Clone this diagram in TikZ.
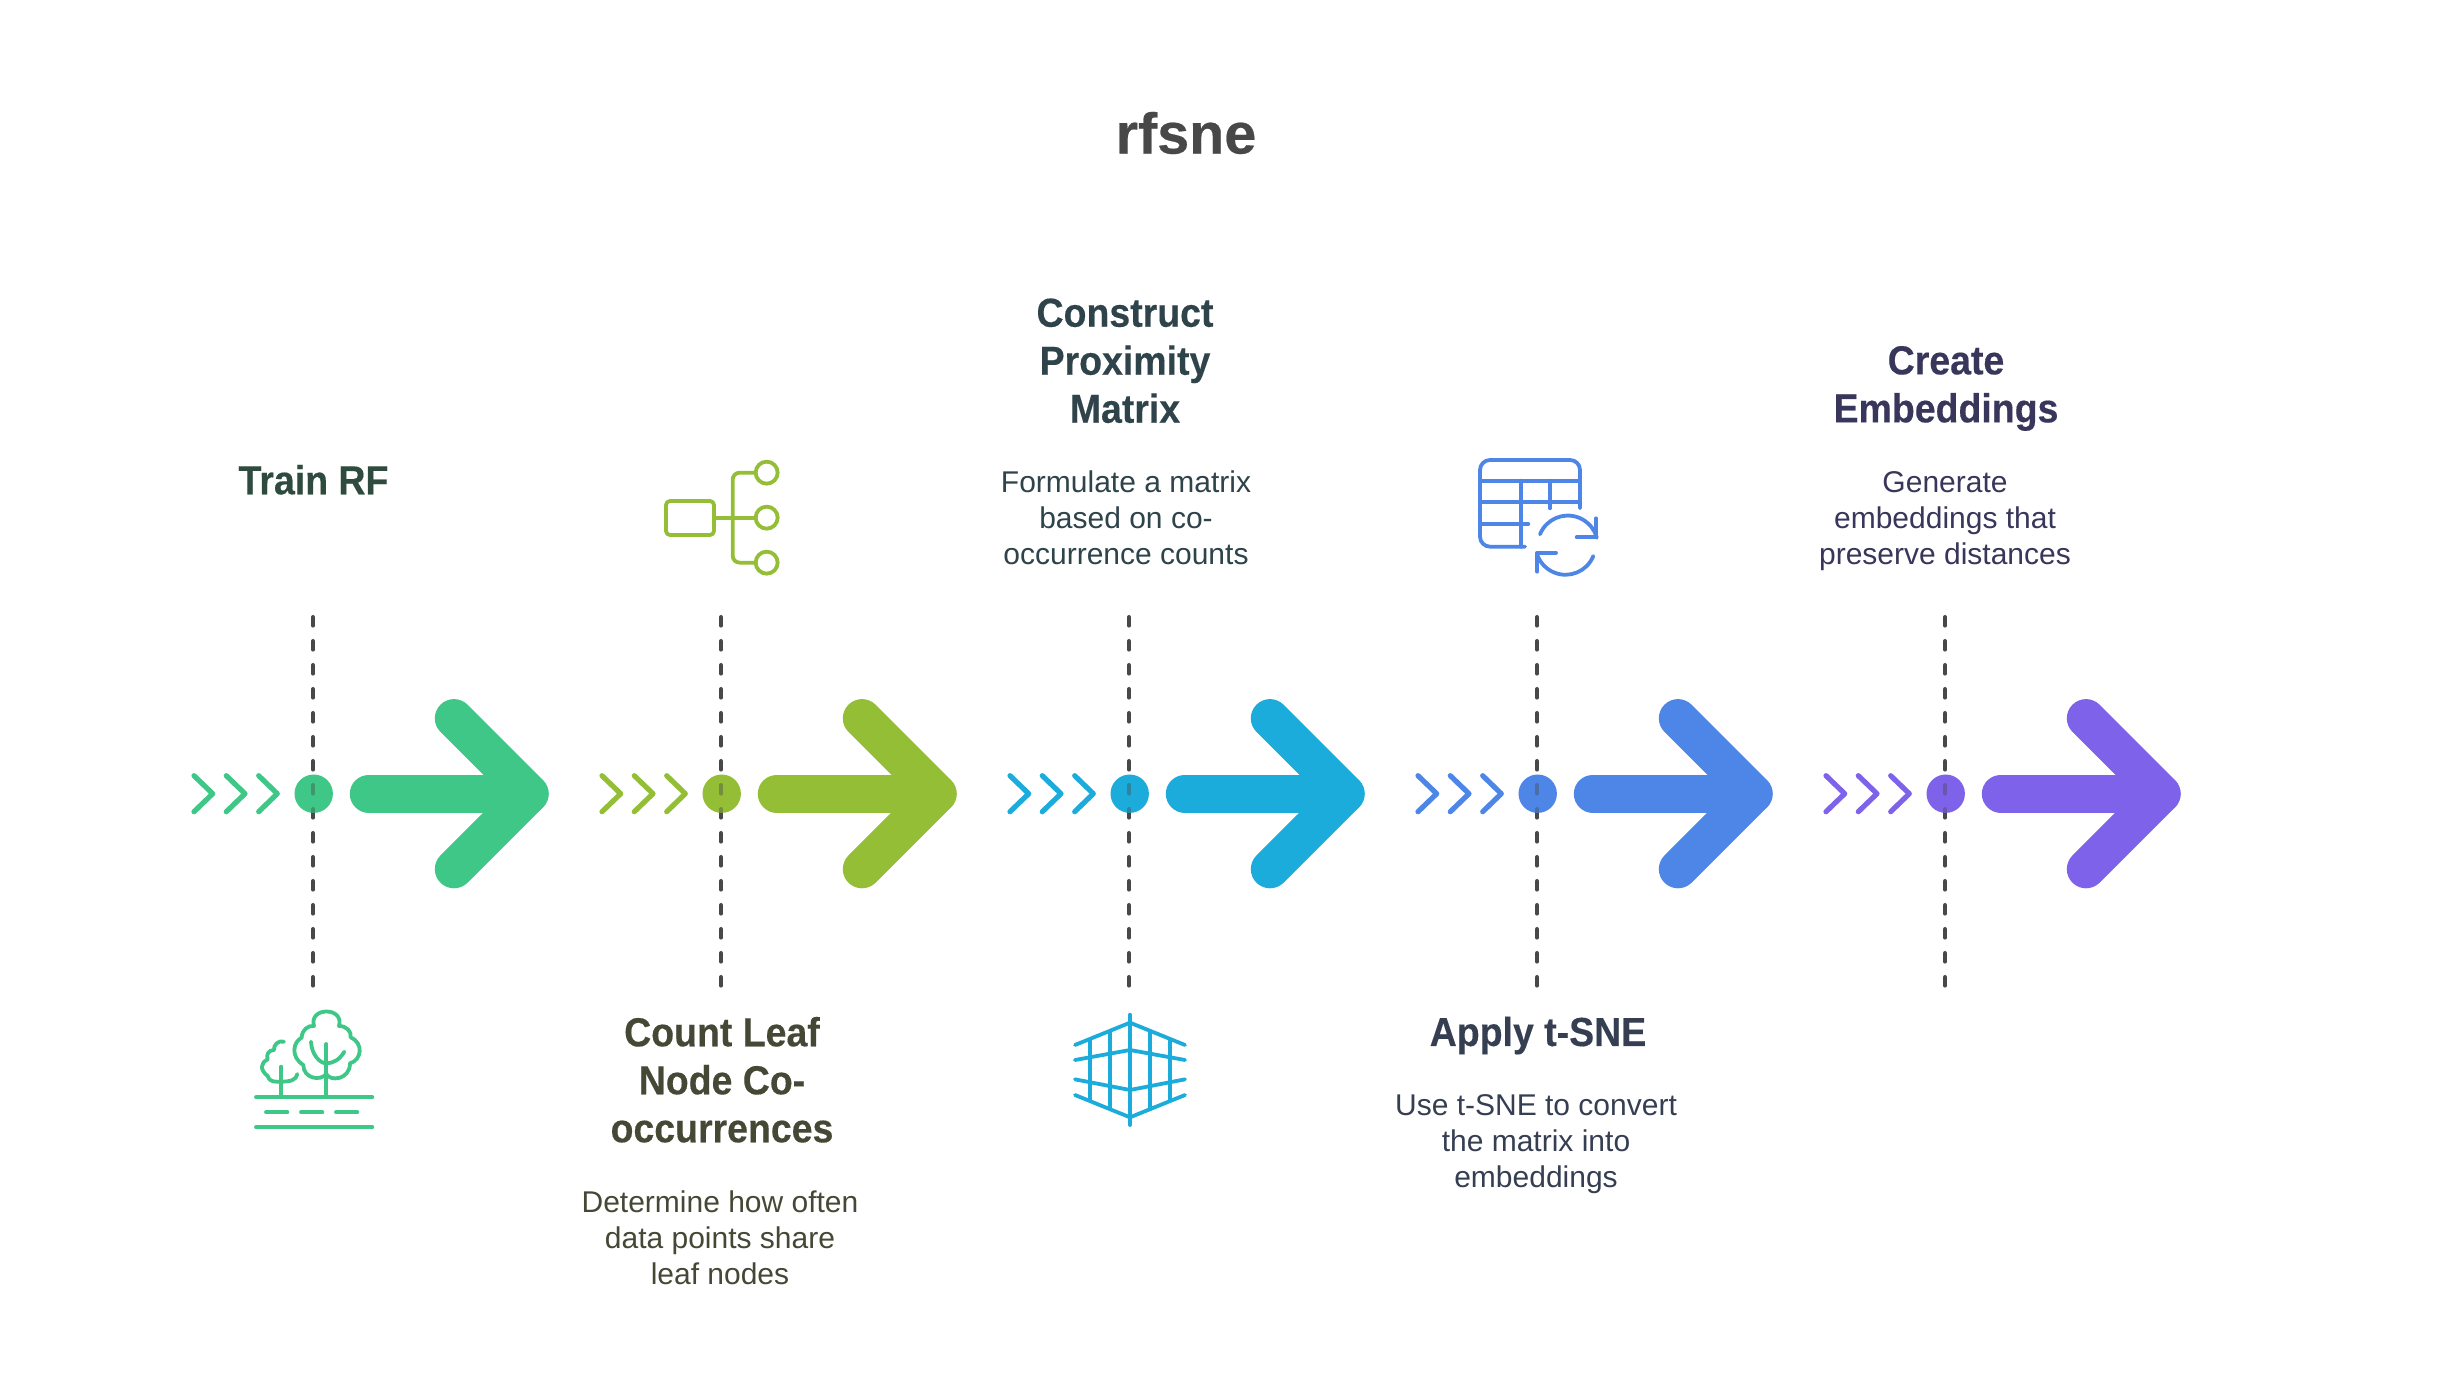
\documentclass[tikz,border=0pt]{standalone}
\usepackage{fontspec}
\setmainfont{Liberation Sans}
\newfontfamily\headfam[FakeStretch=0.925,FakeBold=0.3]{Liberation Sans}
\newfontfamily\titlefam[FakeBold=0.4]{Liberation Sans}
\definecolor{cA}{HTML}{3EC787}
\definecolor{cB}{HTML}{93BE36}
\definecolor{cC}{HTML}{1CACDC}
\definecolor{cD}{HTML}{4E86E8}
\definecolor{cE}{HTML}{7F62EA}
\definecolor{tA}{HTML}{2F4A3E}
\definecolor{tB}{HTML}{464836}
\definecolor{tC}{HTML}{2F434B}
\definecolor{tD}{HTML}{363F52}
\definecolor{tE}{HTML}{38365A}
\definecolor{dashc}{HTML}{484848}
\tikzset{
  x=1pt,y=-1pt,
  dashline/.style={draw=dashc,line width=4.4pt,line cap=round,dash pattern=on 8.2pt off 15.8pt},
  chev/.style={line width=5.2pt,line cap=round,line join=round},
  bigarrow/.style={line width=38.4pt,line cap=round,line join=round},
  icon/.style={line width=3.8pt,line cap=round,line join=round},
  titletext/.style={font=\fontsize{57.5}{60}\selectfont\titlefam\bfseries,text=dashc,inner sep=0pt},
  headtext/.style={font=\fontsize{40.5}{48}\selectfont\headfam\bfseries,align=center,inner sep=0pt},
  bodytext/.style={font=\fontsize{30}{36}\selectfont,align=center,inner sep=0pt},
}
\newcommand{\stage}[3]{%
  % #1 x, #2 colour, #3 name
  \coordinate (#3top) at (#1,617.2);
  \coordinate (#3bot) at (#1,988);
  \draw[dashline] (#3top) -- (#3bot);
  \draw[chev,#2] (#1-119,775.7) -- (#1-100.3,793.7) -- (#1-119,811.7);
  \draw[chev,#2] (#1-86.7,775.7) -- (#1-68,793.7) -- (#1-86.7,811.7);
  \draw[chev,#2] (#1-54.3,775.7) -- (#1-35.7,793.7) -- (#1-54.3,811.7);
  \fill[#2] (#1+.7,793.7) circle[radius=19.2pt];
  \begin{scope}
    \clip (#1+.7,793.7) circle[radius=19.2pt];
    \draw[dashline,opacity=.4] (#3top) -- (#3bot);
  \end{scope}
  \draw[bigarrow,#2] (#1+56,793.7) -- (#1+216.4,793.7);
  \draw[bigarrow,#2] (#1+141,718.3) -- (#1+216.4,793.7) -- (#1+141,869.1);
}
\begin{document}
\begin{tikzpicture}
\useasboundingbox (0,0) rectangle (2452,1396);
\fill[white] (0,0) rectangle (2452,1396);
\node[titletext] (title) at (1186,133) {rfsne};

\stage{313}{cA}{s1}
\stage{721}{cB}{s2}
\stage{1129}{cC}{s3}
\stage{1537}{cD}{s4}
\stage{1945}{cE}{s5}

\node[headtext,text=tA] (h1) at (313.5,479.8) {Train RF};
\node[headtext,text=tB] (h2) at (722,1079.8) {Count Leaf\\Node Co-\\occurrences};
\node[bodytext,text=tB] (b2) at (720,1238) {Determine how often\\data points share\\leaf nodes};
\node[headtext,text=tC] (h3) at (1125,360.8) {Construct\\Proximity\\Matrix};
\node[bodytext,text=tC] (b3) at (1126,518) {Formulate a matrix\\based on co-\\occurrence counts};
\node[headtext,text=tD] (h4) at (1538,1035.5) {Apply t-SNE};
\node[bodytext,text=tD] (b4) at (1536,1144.5) {Use t-SNE to convert\\the matrix into\\embeddings};
\node[headtext,text=tE] (h5) at (1946,388.5) {Create\\Embeddings};
\node[bodytext,text=tE] (b5) at (1945,521) {Generate\\embeddings that\\preserve distances};

% tree icon
\begin{scope}[shift={(240,1000)},x=.3333pt,y=-.3333pt,icon,cA]
  \draw (48,292) -- (397,292);
  \draw (78,337) -- (142,337);
  \draw (183,337) -- (247,337);
  \draw (288,337) -- (352,337);
  \draw (48,382) -- (397,382);
  \draw (259,132) -- (259,292);
  \draw (124,200) -- (124,292);
  \draw (213,125) .. controls (215,165) and (240,190) .. (259,190) .. controls (280,190) and (300,178) .. (313,155);
  \draw (222,78) .. controls (205,20) and (314,20) .. (297,78)
     .. controls (320,78) and (335,95) .. (332,112)
     .. controls (372,130) and (365,180) .. (330,190)
     .. controls (330,240) and (270,245) .. (259,222)
     .. controls (240,245) and (190,235) .. (190,195)
     .. controls (150,170) and (160,125) .. (185,113)
     .. controls (185,90) and (205,75) .. (222,78) -- cycle;
  \draw (132,125) .. controls (115,120) and (100,135) .. (102,150)
     .. controls (85,150) and (78,165) .. (83,178)
     .. controls (60,190) and (60,210) .. (83,228)
     .. controls (90,248) and (105,245) .. (124,245)
     .. controls (150,245) and (170,240) .. (172,222);
\end{scope}

% tree-structure icon
\begin{scope}[shift={(640,440)},x=.3333pt,y=-.3333pt,icon,cB]
  \draw[rounded corners=4pt] (78,183) rectangle (222,285);
  \draw (222,233) -- (347,233);
  \draw[rounded corners=7pt] (347,98) -- (278,98) -- (278,368) -- (347,368);
  \draw (380,98) circle[radius=11pt];
  \draw (380,233) circle[radius=11pt];
  \draw (380,368) circle[radius=11pt];
\end{scope}

% grid icon
\begin{scope}[shift={(1060,1000)},x=.3333pt,y=-.3333pt,icon,cC]
  \draw (210,44) -- (210,375);
  \draw (45,135) -- (210,68) -- (375,135);
  \draw (45,180) -- (210,150) -- (375,180);
  \draw (45,238) -- (210,270) -- (375,238);
  \draw (45,285) -- (210,352) -- (375,285);
  \draw (90,120) -- (90,300);
  \draw (150,97) -- (150,325);
  \draw (270,97) -- (270,325);
  \draw (330,120) -- (330,300);
\end{scope}

% table icon
\begin{scope}[shift={(1460,440)},x=.3333pt,y=-.3333pt,icon,cD]
  \draw[rounded corners=10pt] (360,205) -- (360,60) -- (60,60) -- (60,320) -- (195,320);
  \draw (60,122) -- (360,122);
  \draw (60,185) -- (360,185);
  \draw (60,252) -- (205,252);
  \draw (183,122) -- (183,320);
  \draw (270,122) -- (270,205);
  \draw (240,283) arc[start angle=158,end angle=15,radius=30pt];
  \draw (408,235) -- (408,292) -- (350,292);
  \draw (400,348) arc[start angle=-22,end angle=-160,radius=30pt];
  \draw (232,395) -- (232,338) -- (288,338);
\end{scope}
\end{tikzpicture}
\end{document}
